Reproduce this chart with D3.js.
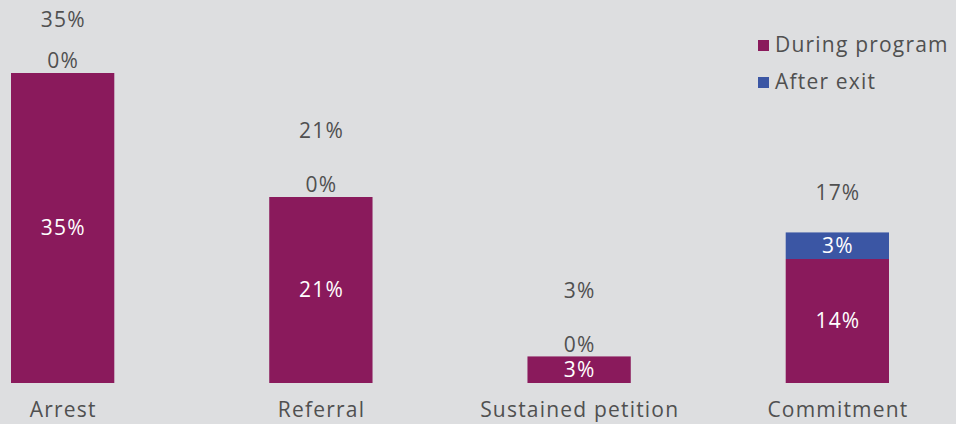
<!DOCTYPE html>
<html>
<head>
<meta charset="utf-8">
<script src="https://cdn.jsdelivr.net/npm/d3@7"></script>
<style>
  body { margin: 0; background: #dddee0; }
  text { font-family: "Open Sans", sans-serif; letter-spacing: 1.2px; }
</style>
</head>
<body>
<div id="chart"></div>
<script>
// Data
const categories = ["Arrest", "Referral", "Sustained petition", "Commitment"];
const duringProgram = [35, 21, 3, 14];
const afterExit = [0, 0, 0, 3];
const seriesNames = ["During program", "After exit"];

const width = 956, height = 424;
const colors = ["#8a1a5c", "#3b56a4"];
const textGrey = "#505050";

const svg = d3.select("#chart")
    .append("svg")
    .attr("width", width)
    .attr("height", height);

svg.append("rect")
    .attr("width", width)
    .attr("height", height)
    .attr("fill", "#dddee0");

const x = d3.scaleBand()
    .domain(categories)
    .range([11, 889])
    .paddingInner(0.6)
    .paddingOuter(0);

const y = d3.scaleLinear()
    .domain([0, 35])
    .range([383, 73]);

const rows = categories.map((c, i) => ({
    cat: c,
    during: duringProgram[i],
    after: afterExit[i],
    total: duringProgram[i] + afterExit[i]
}));

// Bars: during program
svg.selectAll("rect.during")
    .data(rows)
    .enter().append("rect")
    .attr("class", "during")
    .attr("x", d => x(d.cat))
    .attr("y", d => y(d.during))
    .attr("width", x.bandwidth())
    .attr("height", d => y(0) - y(d.during))
    .attr("fill", colors[0]);

// Bars: after exit (stacked)
svg.selectAll("rect.after")
    .data(rows.filter(d => d.after > 0))
    .enter().append("rect")
    .attr("class", "after")
    .attr("x", d => x(d.cat))
    .attr("y", d => y(d.total))
    .attr("width", x.bandwidth())
    .attr("height", d => y(d.during) - y(d.total))
    .attr("fill", colors[1]);

const fs = "21px";
const cx = d => x(d.cat) + x.bandwidth() / 2 + 0.6;

// Labels inside bars
svg.selectAll("text.during-lbl")
    .data(rows)
    .enter().append("text")
    .attr("x", cx)
    .attr("y", d => (y(0) + y(d.during)) / 2)
    .attr("dy", "0.35em")
    .attr("text-anchor", "middle")
    .attr("fill", "#ffffff")
    .style("font-size", fs)
    .text(d => d.during + "%");

// After exit labels
svg.selectAll("text.after-lbl")
    .data(rows)
    .enter().append("text")
    .attr("x", cx)
    .attr("y", d => d.after > 0 ? (y(d.during) + y(d.total)) / 2 : y(d.total) - 12)
    .attr("dy", "0.35em")
    .attr("text-anchor", "middle")
    .attr("fill", d => d.after > 0 ? "#ffffff" : textGrey)
    .style("font-size", fs)
    .text(d => d.after + "%");

// Totals
svg.selectAll("text.total-lbl")
    .data(rows)
    .enter().append("text")
    .attr("x", cx)
    .attr("y", d => Math.max(20, y(d.total) - (d.after > 0 ? 40 : 66)))
    .attr("dy", "0.35em")
    .attr("text-anchor", "middle")
    .attr("fill", textGrey)
    .style("font-size", fs)
    .text(d => d.total + "%");

// Category axis labels
svg.selectAll("text.cat")
    .data(categories)
    .enter().append("text")
    .attr("x", d => x(d) + x.bandwidth() / 2 + 0.6)
    .attr("y", 410)
    .attr("dy", "0.35em")
    .attr("text-anchor", "middle")
    .attr("fill", textGrey)
    .style("font-size", fs)
    .text(d => d);

// Legend
const legend = svg.append("g")
    .attr("transform", "translate(758, 45)");

seriesNames.forEach((name, i) => {
    const g = legend.append("g")
        .attr("transform", `translate(0, ${i * 37})`);
    g.append("rect")
        .attr("y", -5)
        .attr("width", 11)
        .attr("height", 11)
        .attr("fill", colors[i]);
    g.append("text")
        .attr("x", 17)
        .attr("y", 0)
        .attr("dy", "0.35em")
        .attr("fill", textGrey)
        .style("font-size", fs)
        .text(name);
});
</script>
</body>
</html>
